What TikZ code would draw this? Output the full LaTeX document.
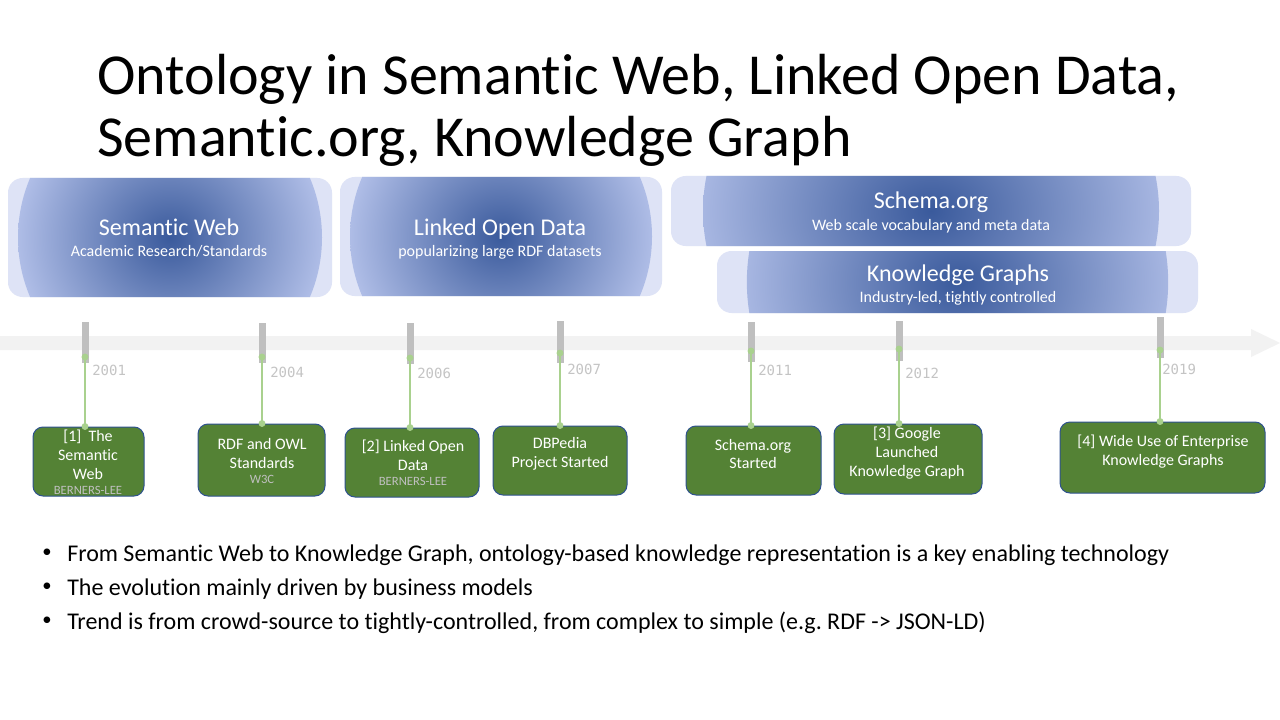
\documentclass[tikz,border=0pt]{standalone}
\usepackage{fontspec}
\setmainfont{Carlito}[Ligatures={NoCommon}, RawFeature={-liga;-clig;-dlig}]
\newfontfamily\yearfont{DejaVu Sans Mono}
\usetikzlibrary{calc}

\definecolor{bandbg}{HTML}{DEE3F6}
\definecolor{bandin}{HTML}{3A5A9C}
\definecolor{bandout}{HTML}{B6C3EB}
\definecolor{track}{HTML}{F2F2F2}
\definecolor{tickgray}{HTML}{BFBFBF}
\definecolor{stem}{HTML}{A9D18E}
\definecolor{evfill}{HTML}{548235}
\definecolor{evedge}{HTML}{2F528F}
\definecolor{yeargray}{HTML}{C4C4C4}
\definecolor{notegray}{HTML}{C0C0C0}

\newcommand\notefont{\fontsize{9.5}{11}\selectfont\color{notegray}}

\begin{document}
\begin{tikzpicture}[x=0.75pt,y=-0.75pt,
  band/.style n args={4}{rounded corners=11pt, fill=bandbg, inner sep=0pt,
    minimum width=#1, minimum height=#2,
    path picture={\shade[inner color=bandin, outer color=bandout]
      (path picture bounding box.center) ellipse [x radius=#3, y radius=#4];}},
  bandtitle/.style={font=\fontsize{18}{22}\selectfont, text=white, inner sep=0pt, anchor=base},
  bandsub/.style={font=\fontsize{12}{14}\selectfont, text=white, inner sep=0pt, anchor=base},
  evbox/.style 2 args={draw=evedge, line width=0.75pt, fill=evfill, rounded corners=7.5pt,
    minimum width=#1, minimum height=#2, inner sep=0pt},
  evtext/.style={font=\fontsize{12}{14.2}\selectfont, text=white, align=center, inner sep=0pt},
  year/.style={font=\yearfont\fontsize{10.5}{12}\selectfont, text=yeargray, inner sep=0pt, anchor=west},
  stemline/.style={draw=stem, line width=1.5pt},
  stemdot/.style={fill=stem},
  ticktab/.style={fill=tickgray},
  titletext/.style={font=\fontsize{43.5}{52}\selectfont, inner sep=0pt, anchor=base west},
  bullettext/.style={font=\fontsize{18}{22}\selectfont, inner sep=0pt, anchor=base west},
  bulletmark/.style={font=\fontsize{14}{16}\selectfont, inner sep=0pt, anchor=center}]

\useasboundingbox (0,0) rectangle (1280,720);
\fill[white] (0,0) rectangle (1280,720);

% title
\node[titletext] (title1) at (97,95) {Ontology in Semantic Web, Linked Open Data,};
\node[titletext] (title2) at (97,157) {Semantic.org, Knowledge Graph};

% era bands
\node[band={243pt}{89.25pt}{114pt}{114pt}] (sw) at (170,237.5) {};
\node[bandtitle] (swT) at (169,235) {Semantic Web};
\node[bandsub] (swS) at (169,257) {Academic Research/Standards};

\node[band={241.5pt}{89.25pt}{113.25pt}{113.25pt}] (lod) at (501,236.5) {};
\node[bandtitle] (lodT) at (500,235) {Linked Open Data};
\node[bandsub] (lodS) at (500,257) {popularizing large RDF datasets};

\node[band={390pt}{52.5pt}{171pt}{150pt}] (sch) at (931,211) {};
\node[bandtitle] (schT) at (931,209) {Schema.org};
\node[bandsub] (schS) at (931,231) {Web scale vocabulary and meta data};

\node[band={360.75pt}{46.5pt}{158pt}{150pt}] (kg) at (957.5,282) {};
\node[bandtitle] (kgT) at (958,281) {Knowledge Graphs};
\node[bandsub] (kgS) at (958,302) {Industry-led, tightly controlled};

% time axis
\fill[track] (0,336) -- (1251,336) -- (1251,329) -- (1280,343) -- (1251,357)
  -- (1251,350) -- (0,350) -- cycle;

% tick tabs
\fill[ticktab] (81.5,322) rectangle (88.5,363);
\fill[ticktab] (258.5,323) rectangle (265.5,363);
\fill[ticktab] (406.5,323) rectangle (413.5,364);
\fill[ticktab] (556.5,321) rectangle (563.5,363);
\fill[ticktab] (747.5,322) rectangle (754.5,362);
\fill[ticktab] (895.5,321) rectangle (902.5,361);
\fill[ticktab] (1156.5,317) rectangle (1163.5,358);

% years
\node[year] (y1) at (92,370) {2001};
\node[year] (y2) at (270,372) {2004};
\node[year] (y3) at (417,373) {2006};
\node[year] (y4) at (567,369) {2007};
\node[year] (y5) at (758,370) {2011};
\node[year] (y6) at (905,373) {2012};
\node[year] (y7) at (1162,369) {2019};

% events
\node[evbox={83.25pt}{51.75pt}] (e1) at (88.5,461.5) {};
\node[evtext] (e1t) at (88,462) {[1]\ \ The\\Semantic\\Web\\[-3pt]{\notefont BERNERS-LEE}};

\node[evbox={95.25pt}{54pt}] (e2) at (261.5,460) {};
\node[evtext] (e2t) at (262,461) {RDF and OWL\\Standards\\[-3pt]{\notefont W3C}};

\node[evbox={100.5pt}{51.75pt}] (e3) at (412,462.5) {};
\node[evtext] (e3t) at (413,463) {[2] Linked Open\\Data\\[-3pt]{\notefont BERNERS-LEE}};

\node[evbox={100.5pt}{51.75pt}] (e4) at (560,460.5) {};
\node[evtext] (e4t) at (560,454) {DBPedia\\Project Started};

\node[evbox={101.25pt}{51.75pt}] (e5) at (753.5,460.5) {};
\node[evtext] (e5t) at (753,454) {Schema.org\\Started};

\node[evbox={111pt}{52.5pt}] (e6) at (908,459) {};
\node[evtext] (e6t) at (907,453) {[3] Google\\Launched\\Knowledge Graph};

\node[evbox={153.75pt}{53.25pt}] (e7) at (1162.5,457.5) {};
\node[evtext] (e7t) at (1163,452) {[4] Wide Use of Enterprise\\Knowledge Graphs};

% stems from axis to event boxes
\coordinate (p1) at (85,357);
\coordinate (p2) at (262,357);
\coordinate (p3) at (410,358);
\coordinate (p4) at (560,353);
\coordinate (p5) at (751,351);
\coordinate (p6) at (899,349);
\coordinate (p7) at (1160,350);
\foreach \i in {1,...,7}{
  \draw[stemline] (p\i) -- (p\i |- e\i.north);
  \fill[stemdot] (p\i) circle[radius=2.6pt];
  \fill[stemdot] (p\i |- e\i.north) circle[radius=2.6pt];
}

% bullet list
\node[bulletmark] (m1) at (47,553) {•};
\node[bullettext] (l1) at (67,561) {From Semantic Web to Knowledge Graph, ontology-based knowledge representation is a key enabling technology};
\node[bulletmark] (m2) at (47,587) {•};
\node[bullettext] (l2) at (67,595) {The evolution mainly driven by business models};
\node[bulletmark] (m3) at (47,621) {•};
\node[bullettext] (l3) at (67,629) {Trend is from crowd-source to tightly-controlled, from complex to simple (e.g.\ RDF -> JSON-LD)};

\end{tikzpicture}
\end{document}
